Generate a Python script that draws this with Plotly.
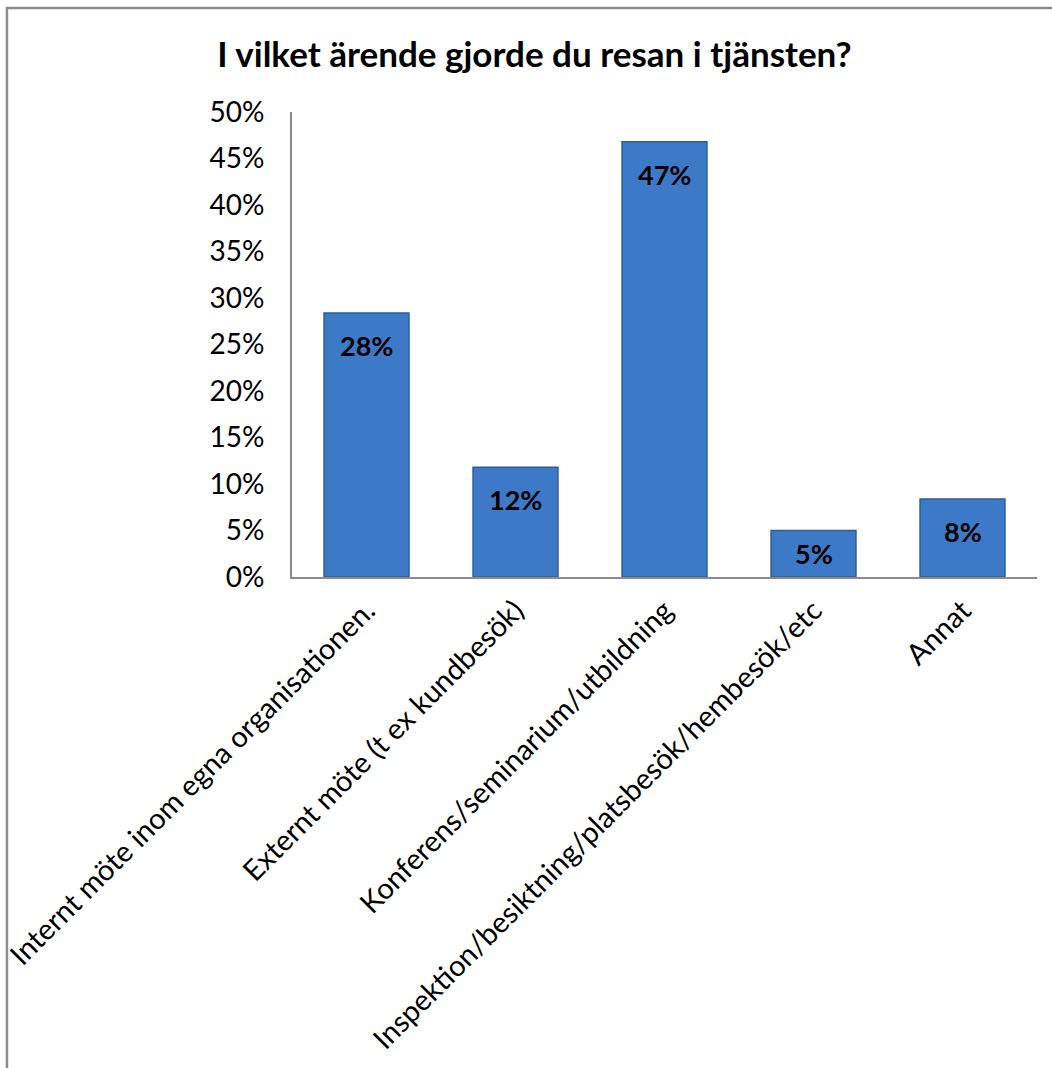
import plotly.graph_objects as go

categories = [
    "Internt möte inom egna organisationen.",
    "Externt möte (t ex kundbesök)",
    "Konferens/seminarium/utbildning",
    "Inspektion/besiktning/platsbesök/hembesök/etc",
    "Annat",
]
values = [0.284, 0.118, 0.468, 0.050, 0.084]
title_text = "I vilket ärende gjorde du resan i tjänsten?"
tick_vals = [i * 0.05 for i in range(11)]

FONT = "Lato"

fig = go.Figure()
fig.add_trace(go.Bar(
    x=categories,
    y=values,
    width=0.57,
    marker=dict(color="#3c7ac7", line=dict(color="#2c5d9b", width=1.5)),
    hoverinfo="skip",
))

# data labels inside the top of each bar
for c, v in zip(categories, values):
    fig.add_annotation(
        x=c, y=max(v - 0.035, v / 2), text=f"{v:.0%}", showarrow=False,
        font=dict(family=FONT, size=27, color="black", weight="bold"),
        yanchor="middle", xanchor="center",
    )

fig.update_layout(
    width=1052, height=1068,
    paper_bgcolor="white", plot_bgcolor="white",
    margin=dict(l=292, r=15, t=112, b=491),
    showlegend=False,
    title=dict(text=f"<b>{title_text}</b>", x=0.508, xanchor="center", y=0.949, yanchor="middle",
               font=dict(family=FONT, size=35, color="black")),
    font=dict(family=FONT, color="black"),
    shapes=[dict(type="rect", xref="paper", yref="paper",
                 x0=-0.3826, x1=1.3, y0=-1.2, y1=1.2237,
                 line=dict(color="#8c8c8c", width=2.5), layer="below")],
)
fig.update_yaxes(
    range=[0, 0.5], tickvals=tick_vals, tickformat=".0%", automargin=False,
    showgrid=False, zeroline=False, showline=True, linecolor="#8c8c8c", linewidth=2,
    tickfont=dict(family=FONT, size=28, color="black"), ticks="", ticklabelstandoff=20,
)
fig.update_xaxes(
    showgrid=False, showline=True, linecolor="#8c8c8c", linewidth=2, automargin=False,
    tickangle=-45, tickfont=dict(family=FONT, size=29, color="black"), ticks="",
    ticklabelstandoff=3,
)

fig.write_html(
    "out.html",
    config={"displayModeBar": False, "staticPlot": True},
    post_script="document.body.style.margin='0';document.body.style.overflow='hidden';",
)
